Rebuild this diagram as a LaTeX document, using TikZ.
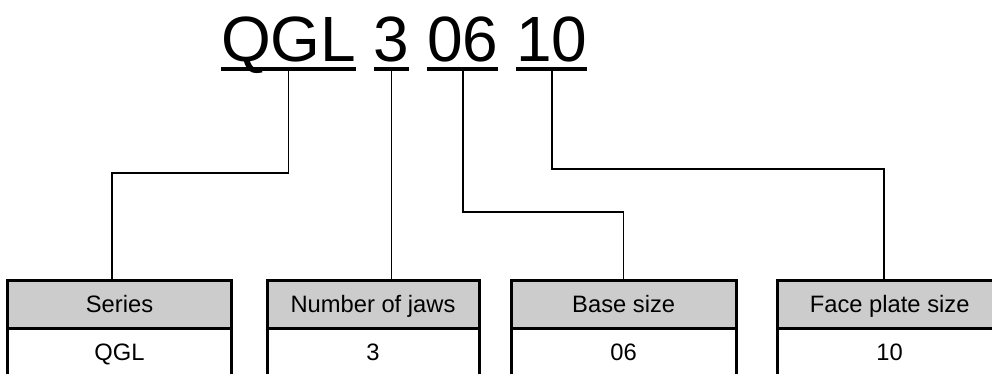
\documentclass[tikz,border=0pt]{standalone}
\usepackage{fontspec}
\setmainfont{Liberation Sans}
\usetikzlibrary{positioning}

\tikzset{
    code/.style={font=\fontsize{48}{48}\selectfont, inner sep=0pt, outer sep=0pt},
    uline/.style={line width=3pt},
    link/.style={line width=1.2pt},
    head/.style={draw, line width=2.25pt, fill=black!20, minimum height=36pt, inner sep=0pt, outer sep=0pt, text height=12.7pt, text depth=0pt, font=\fontsize{17.8}{20}\selectfont, anchor=north west},
    val/.style={draw, line width=2.25pt, fill=white, minimum height=36pt, inner sep=0pt, outer sep=0pt, text height=12.7pt, text depth=0pt, font=\fontsize{17.8}{20}\selectfont},
}

\begin{document}
\begin{tikzpicture}[x=0.75pt, y=-0.75pt]

\useasboundingbox (0,0) rectangle (992,374);
\clip (0,0) rectangle (992,374);

% Model code
\node[code, anchor=base west] (c-qgl) at (221,62) {QGL};
\node[code, base right=13.3pt of c-qgl] (c-jaws) {3};
\node[code, base right=13.3pt of c-jaws] (c-base) {06};
\node[code, base right=13.3pt of c-base] (c-face) {10};

% Underlines
\foreach \n in {qgl,jaws,base,face} {
    \draw[uline] ([yshift=-5.25pt]c-\n.base west) -- ([yshift=-5.25pt]c-\n.base east);
    \coordinate (u-\n) at ([yshift=-5.25pt]c-\n.base);
}

% Header cells
\node[head, minimum width=168pt] (h-series) at (7.5,280) {Series};
\node[head, minimum width=159pt] (h-jaws) at (267,280) {Number of jaws};
\node[head, minimum width=169pt] (h-base) at (511,280) {Base size};
\node[head, minimum width=169pt] (h-face) at (777,280) {Face plate size};

% Value cells
\node[val, minimum width=168pt, below=0pt of h-series] (v-series) {QGL};
\node[val, minimum width=159pt, below=0pt of h-jaws] (v-jaws) {3};
\node[val, minimum width=169pt, below=0pt of h-base] (v-base) {06};
\node[val, minimum width=169pt, below=0pt of h-face] (v-face) {10};

% Leader lines
\draw[link] (u-qgl) -- ++(0,104) -| ([xshift=-5.6pt]h-series.north);
\draw[link] (u-jaws) -- (u-jaws |- h-jaws.north);
\draw[link] (u-base) -- ++(0,143) -| (h-base.north);
\draw[link] (u-face) -- ++(0,100) -| ([xshift=-4.3pt]h-face.north);

\end{tikzpicture}
\end{document}
